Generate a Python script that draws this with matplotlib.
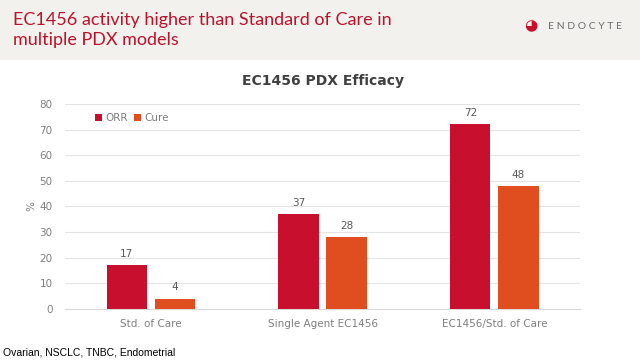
import numpy as np
import matplotlib.pyplot as plt
from matplotlib.patches import Rectangle

categories = ['Std. of Care', 'Single Agent EC1456', 'EC1456/Std. of Care']
orr = [17, 37, 72]
cure = [4, 28, 48]
yticks = [0, 10, 20, 30, 40, 50, 60, 70, 80]

red = '#c8102e'
orange = '#e04e1f'
gray = '#7f7f7f'

fig = plt.figure(figsize=(6.4, 3.63), dpi=100)
fig.patch.set_facecolor('white')

# header band
fig.patches.append(Rectangle((0, 1 - 60 / 363), 1, 60 / 363, transform=fig.transFigure,
                             facecolor='#f3f1ee', edgecolor='none', zorder=0))
fig.text(0.02, 0.968, 'EC1456 activity higher than Standard of Care in\nmultiple PDX models',
         color='#b5142c', fontsize=13, family='Lato',
         va='top', ha='left', linespacing=1.35)
fig.text(0.856, 0.928, 'E N D O C Y T E', color='#6d6d6d', fontsize=7.5,
         family='Lato', va='center', ha='left')
fig.text(0.83, 0.928, '\u25d5', color=red, fontsize=11, va='center', ha='center')

ax = fig.add_axes([0.1016, 0.1488, 0.805, 0.5647])
x = np.arange(len(categories))
w = 0.235
b1 = ax.bar(x - 0.14, orr, w, color=red, label='ORR', zorder=3)
b2 = ax.bar(x + 0.14, cure, w, color=orange, label='Cure', zorder=3)
for bars in (b1, b2):
    for r in bars:
        ax.text(r.get_x() + r.get_width() / 2, r.get_height() + 2.5, str(int(r.get_height())),
                ha='center', va='bottom', color='#595959', fontsize=7.5)

ax.set_xlim(-0.5, 2.5)
ax.set_ylim(0, 80)
ax.set_yticks(yticks)
ax.set_xticks(x)
ax.set_xticklabels(categories)
ax.tick_params(axis='both', length=0, colors=gray, labelsize=7.5, pad=7)
ax.tick_params(axis='y', pad=9)
ax.grid(axis='y', color='#e4e4e4', linewidth=0.8, zorder=0)
for s in ['top', 'right', 'left']:
    ax.spines[s].set_visible(False)
ax.spines['bottom'].set_color('#d9d9d9')
ax.set_ylabel('%', color=gray, fontsize=7.5, rotation=90, labelpad=2)
ax.set_title('EC1456 PDX Efficacy', fontsize=10, fontweight='bold', color='#404040', pad=14)
ax.legend(loc='upper left', bbox_to_anchor=(0.04, 1.0), ncol=2, frameon=False,
          fontsize=7.5, handlelength=0.7, handleheight=0.7, handletextpad=0.3,
          columnspacing=0.6, labelcolor=gray)

fig.text(0.004, 0.028, 'Ovarian, NSCLC, TNBC, Endometrial', fontsize=7.5,
         family='Liberation Sans', color='black', va='center', ha='left')

fig.savefig('out.png', dpi=100)
